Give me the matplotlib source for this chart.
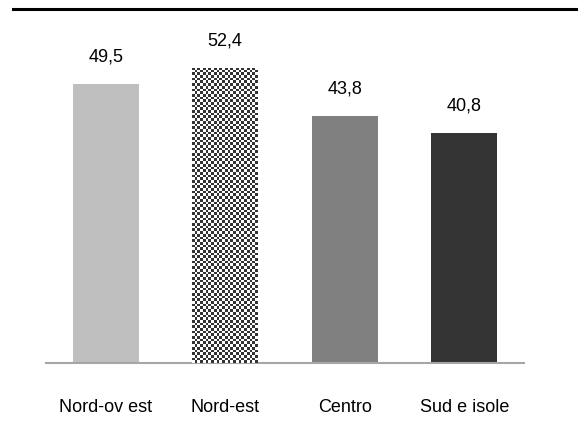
import matplotlib.pyplot as plt
import numpy as np
from matplotlib.lines import Line2D

plt.rcParams['font.family'] = ['Liberation Sans', 'DejaVu Sans']

regions = ['Nord-ov est', 'Nord-est', 'Centro', 'Sud e isole']
values = [49.5, 52.4, 43.8, 40.8]
labels = ['49,5', '52,4', '43,8', '40,8']
colors = ['#bfbfbf', '#ffffff', '#808080', '#333333']

fig = plt.figure(figsize=(5.79, 4.35), dpi=100)
ax = fig.add_axes([46 / 579, (435 - 364) / 435, 478 / 579, 338 / 435])

x = np.arange(len(regions))
bars = ax.bar(x, values, width=0.55, color=colors, zorder=2)

# checkerboard fill for the second bar
b = bars[1]
nx, ny = 24, 110
checker = (np.indices((ny, nx)).sum(axis=0) % 2).astype(float)
img = ax.imshow(checker, cmap='gray', vmin=-0.25, vmax=1,
                extent=[b.get_x(), b.get_x() + b.get_width(), 0, b.get_height()],
                interpolation='nearest', aspect='auto', zorder=3)
img.set_clip_path(b)

for xi, v, lab in zip(x, values, labels):
    ax.annotate(lab, (xi, v), xytext=(0, 14), textcoords='offset points',
                ha='center', va='bottom', fontsize=13)

ax.set_xlim(-0.5, 3.5)
ax.set_ylim(0, 60)
ax.set_yticks([])
ax.set_xticks(x)
ax.set_xticklabels(regions, fontsize=13)
ax.tick_params(axis='x', length=0, pad=25)
for s in ['top', 'left', 'right']:
    ax.spines[s].set_visible(False)
ax.spines['bottom'].set_color('#a6a6a6')
ax.spines['bottom'].set_linewidth(1.5)

fig.add_artist(Line2D([13 / 579, 576 / 579], [425 / 435, 425 / 435],
                      color='black', linewidth=2.2, transform=fig.transFigure))

plt.savefig('out.png', dpi=100)
